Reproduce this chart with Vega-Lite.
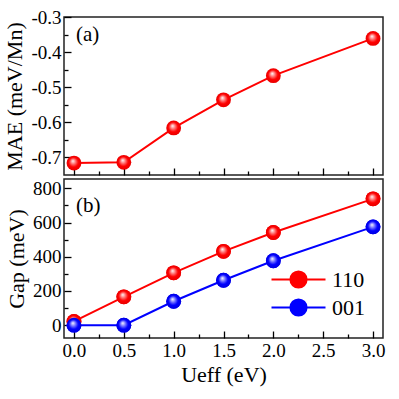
{
  "$schema": "https://vega.github.io/schema/vega-lite/v6.json",
  "padding": {"left": 3, "top": 7, "right": 10, "bottom": 5},
  "datasets": {
    "mae": [
      {"U": 0.0, "mae": -0.716},
      {"U": 0.5, "mae": -0.714},
      {"U": 1.0, "mae": -0.616},
      {"U": 1.5, "mae": -0.536},
      {"U": 2.0, "mae": -0.467},
      {"U": 3.0, "mae": -0.361}
    ],
    "gap": [
      {"U": 0.0, "series": "110", "gap": 22},
      {"U": 0.5, "series": "110", "gap": 166},
      {"U": 1.0, "series": "110", "gap": 306},
      {"U": 1.5, "series": "110", "gap": 432},
      {"U": 2.0, "series": "110", "gap": 542},
      {"U": 3.0, "series": "110", "gap": 739},
      {"U": 0.0, "series": "001", "gap": 0},
      {"U": 0.5, "series": "001", "gap": 0},
      {"U": 1.0, "series": "001", "gap": 140},
      {"U": 1.5, "series": "001", "gap": 263},
      {"U": 2.0, "series": "001", "gap": 377},
      {"U": 3.0, "series": "001", "gap": 575}
    ]
  },
  "spacing": 1,
  "vconcat": [
    {
      "width": 319,
      "height": 158,
      "data": {"name": "mae"},
      "title": {"text": "(a)", "anchor": "start", "frame": "group", "offset": -37, "dx": 12, "fontSize": 21, "fontWeight": "normal", "font": "Liberation Serif", "color": "black"},
      "resolve": {"axis": {"x": "independent", "y": "independent"}},
      "layer": [
        {
          "mark": {"type": "line", "color": "#ff0000", "strokeWidth": 2},
          "encoding": {
            "x": {"field": "U", "type": "quantitative", "scale": {"domain": [-0.1, 3.1], "nice": false, "zero": false},
                  "axis": {"values": [0, 0.5, 1, 1.5, 2, 2.5, 3], "labels": false, "title": null, "orient": "bottom"}},
            "y": {"field": "mae", "type": "quantitative", "scale": {"domain": [-0.75, -0.3], "nice": false, "zero": false},
                  "axis": {"values": [-0.7, -0.6, -0.5, -0.4, -0.3], "format": ".1f", "labelExpr": "replace(datum.label, '\u2212', '-')", "title": "MAE (meV/Mn)", "orient": "left"}}
          }
        },
        {
          "mark": {"type": "point", "filled": true, "size": 220, "opacity": 1, "strokeWidth": 0,
                   "fill": {"gradient": "radial", "x1": 0.42, "y1": 0.35, "r1": 0, "x2": 0.5, "y2": 0.5, "r2": 0.5,
                            "stops": [{"offset": 0, "color": "#ffffff"}, {"offset": 0.35, "color": "#ff7070"}, {"offset": 0.65, "color": "#ff0000"}, {"offset": 1, "color": "#e80000"}]}},
          "encoding": {
            "x": {"field": "U", "type": "quantitative",
                  "axis": {"values": [0.25, 0.75, 1.25, 1.75, 2.25, 2.75], "labels": false, "title": null, "tickSize": -4, "orient": "bottom"}},
            "y": {"field": "mae", "type": "quantitative",
                  "axis": {"values": [-0.65, -0.55, -0.45, -0.35], "labels": false, "title": null, "tickSize": -4, "orient": "left"}}
          }
        }
      ]
    },
    {
      "width": 319,
      "height": 159,
      "data": {"name": "gap"},
      "title": {"text": "(b)", "anchor": "start", "frame": "group", "offset": -37, "dx": 12, "fontSize": 21, "fontWeight": "normal", "font": "Liberation Serif", "color": "black"},
      "resolve": {"axis": {"x": "independent", "y": "independent"}},
      "layer": [
        {
          "mark": {"type": "line", "strokeWidth": 2},
          "encoding": {
            "x": {"field": "U", "type": "quantitative", "scale": {"domain": [-0.1, 3.1], "nice": false, "zero": false},
                  "axis": {"values": [0, 0.5, 1, 1.5, 2, 2.5, 3], "format": ".1f", "title": "Ueff (eV)", "orient": "bottom"}},
            "y": {"field": "gap", "type": "quantitative", "scale": {"domain": [-75, 855], "nice": false, "zero": false},
                  "axis": {"values": [0, 200, 400, 600, 800], "title": "Gap (meV)", "orient": "left"}},
            "color": {"field": "series", "type": "nominal", "scale": {"domain": ["110", "001"], "range": ["#ff0000", "#0000ff"]},
                      "legend": {"title": null, "orient": "none", "legendX": 220, "legendY": 248, "labelFontSize": 22, "labelFont": "Liberation Serif", "labelColor": "black",
                                 "symbolType": "M-2,0L2,0M-0.6,0A0.6,0.6 0 1,1 0.6,0A0.6,0.6 0 1,1 -0.6,0Z", "symbolSize": 729, "symbolStrokeWidth": 2, "rowPadding": 1, "labelOffset": 19}}
          }
        },
        {
          "mark": {"type": "point", "filled": true, "size": 220, "opacity": 1},
          "encoding": {
            "x": {"field": "U", "type": "quantitative",
                  "axis": {"values": [0.25, 0.75, 1.25, 1.75, 2.25, 2.75], "labels": false, "title": null, "tickSize": -4, "orient": "bottom"}},
            "y": {"field": "gap", "type": "quantitative",
                  "axis": {"values": [100, 300, 500, 700], "labels": false, "title": null, "tickSize": -4, "orient": "left"}},
            "color": {"field": "series", "type": "nominal"}
          }
        },
        {
          "transform": [{"filter": "datum.series == '110'"}],
          "mark": {"type": "point", "filled": true, "size": 220, "opacity": 1, "strokeWidth": 0,
                   "fill": {"gradient": "radial", "x1": 0.42, "y1": 0.35, "r1": 0, "x2": 0.5, "y2": 0.5, "r2": 0.5,
                            "stops": [{"offset": 0, "color": "#ffffff"}, {"offset": 0.35, "color": "#ff7070"}, {"offset": 0.65, "color": "#ff0000"}, {"offset": 1, "color": "#e80000"}]}},
          "encoding": {
            "x": {"field": "U", "type": "quantitative", "axis": null},
            "y": {"field": "gap", "type": "quantitative", "axis": null}
          }
        },
        {
          "transform": [{"filter": "datum.series == '001'"}],
          "mark": {"type": "point", "filled": true, "size": 220, "opacity": 1, "strokeWidth": 0,
                   "fill": {"gradient": "radial", "x1": 0.42, "y1": 0.35, "r1": 0, "x2": 0.5, "y2": 0.5, "r2": 0.5,
                            "stops": [{"offset": 0, "color": "#ffffff"}, {"offset": 0.35, "color": "#7070ff"}, {"offset": 0.65, "color": "#0000ff"}, {"offset": 1, "color": "#0000e0"}]}},
          "encoding": {
            "x": {"field": "U", "type": "quantitative", "axis": null},
            "y": {"field": "gap", "type": "quantitative", "axis": null}
          }
        }
      ]
    }
  ],
  "config": {
    "font": "Liberation Serif",
    "view": {"stroke": "#222222", "strokeWidth": 1.5},
    "axis": {
      "labelFont": "Liberation Serif", "labelFontSize": 19, "labelColor": "black",
      "titleFont": "Liberation Serif", "titleFontSize": 22, "titleFontWeight": "normal", "titleColor": "black",
      "tickColor": "black", "tickWidth": 1.3, "tickSize": -7, "grid": false, "domain": false, "labelPadding": 10
    }
  }
}
